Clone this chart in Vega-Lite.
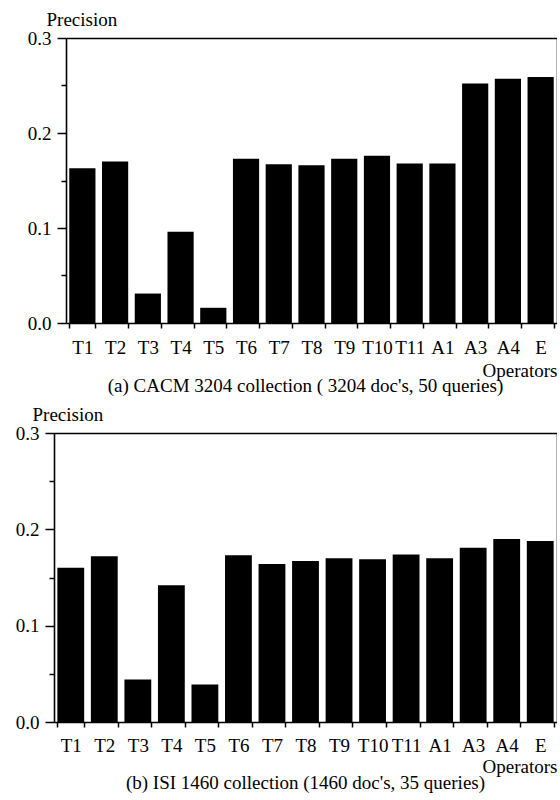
{
  "$schema": "https://vega.github.io/schema/vega-lite/v6.json",
  "padding": {"left": 15, "top": 10, "right": 0, "bottom": 0},
  "background": "white",
  "spacing": 9,
  "config": {
    "view": {"stroke": null},
    "font": "Liberation Serif, Times New Roman, serif",
    "axis": {
      "labelFont": "Liberation Serif, Times New Roman, serif", "titleFont": "Liberation Serif, Times New Roman, serif",
      "labelFontSize": 19, "titleFontSize": 19, "titleFontWeight": "normal",
      "labelColor": "black", "titleColor": "black",
      "domainColor": "black", "tickColor": "black", "domainWidth": 1.6, "tickWidth": 1.5,
      "grid": false
    },
    "title": {"font": "Liberation Serif, Times New Roman, serif", "fontSize": 19, "fontWeight": "normal", "color": "black"}
  },
  "vconcat": [
    {
      "data": {"values": [
        {"op": "T1", "p": 0.163}, {"op": "T2", "p": 0.170}, {"op": "T3", "p": 0.031},
        {"op": "T4", "p": 0.096}, {"op": "T5", "p": 0.016}, {"op": "T6", "p": 0.173},
        {"op": "T7", "p": 0.167}, {"op": "T8", "p": 0.166}, {"op": "T9", "p": 0.173},
        {"op": "T10", "p": 0.176}, {"op": "T11", "p": 0.168}, {"op": "A1", "p": 0.168},
        {"op": "A3", "p": 0.252}, {"op": "A4", "p": 0.257}, {"op": "E", "p": 0.259}
      ]},
      "title": {"text": "(a) CACM  3204  collection ( 3204 doc's, 50 queries)", "orient": "bottom", "anchor": "middle", "offset": -3},
      "width": 503,
      "height": 285,
      "layer": [
        {
          "mark": {"type": "bar", "color": "black"},
          "encoding": {
            "x": {"field": "op", "type": "nominal", "sort": null,
              "scale": {"range": [12, 503], "paddingInner": 0.2, "paddingOuter": 0.1},
              "axis": {"orient": "bottom", "labelAngle": 0, "tickBand": "extent", "labelOverlap": false, "labelBound": false,
                "tickSize": 5, "labelPadding": 10, "title": "Operators",
                "titleAlign": "right", "titleAnchor": "end", "titleX": 503, "titleY": 53, "titleBaseline": "alphabetic"}},
            "y": {"field": "p", "type": "quantitative",
              "scale": {"domain": [0, 0.3], "nice": false, "zero": true},
              "axis": {"orient": "left", "offset": -12, "values": [0, 0.05, 0.1, 0.15, 0.2, 0.25, 0.3],
                "labelExpr": "round(datum.value*20) % 2 == 0 ? format(datum.value, '.1f') : ''",
                "tickSize": {"condition": {"test": "round(datum.value*20) % 2 == 0", "value": 9}, "value": 5},
                "labelPadding": 6, "labelBaseline": "middle",
                "title": "Precision", "titleAngle": 0, "titleAlign": "left", "titleBaseline": "alphabetic",
                "titleX": -20, "titleY": -13}}
          }
        },
        {
          "mark": {"type": "bar", "opacity": 0},
          "encoding": {
            "x": {"field": "op", "type": "nominal", "sort": null,
              "axis": {"orient": "top", "domain": true, "ticks": false, "labels": false, "title": null}},
            "y": {"field": "p", "type": "quantitative",
              "axis": {"orient": "right", "domain": true, "ticks": false, "labels": false, "title": null}}
          }
        }
      ],
      "resolve": {"axis": {"x": "independent", "y": "independent"}}
    },
    {
      "data": {"values": [
        {"op": "T1", "p": 0.160}, {"op": "T2", "p": 0.172}, {"op": "T3", "p": 0.044},
        {"op": "T4", "p": 0.142}, {"op": "T5", "p": 0.039}, {"op": "T6", "p": 0.173},
        {"op": "T7", "p": 0.164}, {"op": "T8", "p": 0.167}, {"op": "T9", "p": 0.170},
        {"op": "T10", "p": 0.169}, {"op": "T11", "p": 0.174}, {"op": "A1", "p": 0.170},
        {"op": "A3", "p": 0.181}, {"op": "A4", "p": 0.190}, {"op": "E", "p": 0.188}
      ]},
      "title": {"text": "(b) ISI  1460 collection (1460 doc's, 35 queries)", "orient": "bottom", "anchor": "middle", "offset": -2},
      "width": 503,
      "height": 289,
      "layer": [
        {
          "mark": {"type": "bar", "color": "black"},
          "encoding": {
            "x": {"field": "op", "type": "nominal", "sort": null,
              "scale": {"range": [0, 503], "paddingInner": 0.2, "paddingOuter": 0.1},
              "axis": {"orient": "bottom", "labelAngle": 0, "tickBand": "extent", "labelOverlap": false, "labelBound": false,
                "tickSize": 5, "labelPadding": 9, "title": "Operators",
                "titleAlign": "right", "titleAnchor": "end", "titleX": 503, "titleY": 50, "titleBaseline": "alphabetic"}},
            "y": {"field": "p", "type": "quantitative",
              "scale": {"domain": [0, 0.3], "nice": false, "zero": true},
              "axis": {"orient": "left", "values": [0, 0.05, 0.1, 0.15, 0.2, 0.25, 0.3],
                "labelExpr": "round(datum.value*20) % 2 == 0 ? format(datum.value, '.1f') : ''",
                "tickSize": {"condition": {"test": "round(datum.value*20) % 2 == 0", "value": 9}, "value": 5},
                "labelPadding": 6, "labelBaseline": "middle",
                "title": "Precision", "titleAngle": 0, "titleAlign": "left", "titleBaseline": "alphabetic",
                "titleX": -22, "titleY": -13}}
          }
        },
        {
          "mark": {"type": "bar", "opacity": 0},
          "encoding": {
            "x": {"field": "op", "type": "nominal", "sort": null,
              "axis": {"orient": "top", "domain": true, "ticks": false, "labels": false, "title": null}},
            "y": {"field": "p", "type": "quantitative",
              "axis": {"orient": "right", "domain": true, "ticks": false, "labels": false, "title": null}}
          }
        }
      ],
      "resolve": {"axis": {"x": "independent", "y": "independent"}}
    }
  ]
}
